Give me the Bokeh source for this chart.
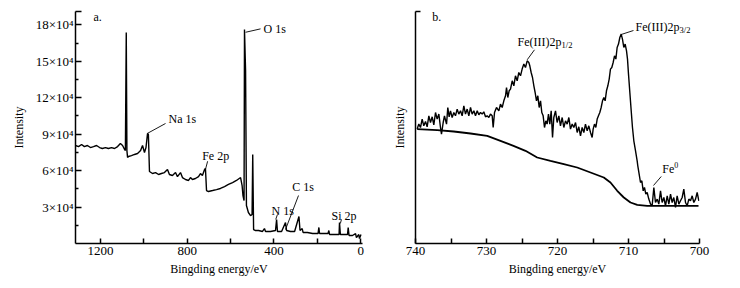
from bokeh.plotting import figure
from bokeh.layouts import row
from bokeh.models import FixedTicker, Range1d
from bokeh.core.properties import value
from bokeh.embed import file_html
from bokeh.resources import INLINE

# ---------------- data: survey spectrum (panel a) ----------------
survey_ev = [1315, 1301, 1287, 1274, 1260, 1246, 1232, 1218, 1204, 1191, 1177, 1163, 1149, 1135, 1121,
             1108, 1098, 1091, 1085, 1081, 1078, 1075, 1071, 1057, 1043, 1029, 1015, 1006, 997, 990,
             983, 979, 974, 960, 946, 932, 919, 905, 891, 882, 868, 854, 845, 831, 822,
             808, 794, 785, 776, 762, 748, 739, 730, 720, 716, 711, 702, 683, 665, 647,
             628, 610, 591, 573, 554, 547, 543, 538, 536, 531, 527, 518, 508, 501, 498,
             494, 485, 471, 453, 444, 439, 416, 393, 388, 384, 365, 347, 342, 324, 305,
             285, 280, 270, 266, 246, 222, 197, 193, 190, 172, 151, 147, 144, 121, 100,
             98, 94, 75, 61, 58, 54, 38, 24, 20, 9, 6, -1]
survey_int = [8.07, 7.98, 8.15, 7.98, 8.07, 7.90, 7.98, 8.07, 7.90, 7.82, 7.90, 7.82, 7.90, 7.82, 7.98,
              8.23, 8.07, 7.82, 7.65, 17.37, 7.65, 7.08, 7.16, 7.24, 7.33, 7.41, 7.65, 8.07, 7.49, 7.90,
              9.05, 8.97, 5.93, 5.76, 5.84, 5.68, 5.76, 5.84, 6.09, 5.68, 5.60, 5.84, 5.51, 5.84, 5.43,
              5.27, 5.19, 5.43, 5.27, 5.35, 5.51, 5.76, 5.60, 6.09, 6.17, 4.36, 4.28, 4.36, 4.44, 4.53,
              4.69, 4.86, 5.02, 5.19, 5.43, 4.77, 3.95, 3.54, 17.61, 14.24, 3.13, 2.55, 2.30, 2.39, 7.33,
              1.15, 1.07, 1.07, 0.99, 1.23, 0.99, 0.99, 1.07, 1.98, 0.99, 0.99, 1.73, 1.07, 0.99, 0.99,
              2.22, 1.07, 1.23, 0.91, 0.91, 0.82, 0.82, 1.32, 0.82, 0.82, 0.82, 1.07, 0.74, 0.74, 0.74,
              1.73, 0.74, 0.74, 0.74, 1.32, 0.66, 0.66, 0.82, 0.49, 0.74, 0.41, 0.74]

survey_xticks = [0, 400, 800, 1200]
survey_xminor = [200, 600, 1000]
survey_yticks = [3, 6, 9, 12, 15, 18]
survey_ylabels = ["3×10⁴", "6×10⁴", "9×10⁴", "12×10⁴", "15×10⁴", "18×10⁴"]
survey_yminor = [1.5, 4.5, 7.5, 10.5, 13.5, 16.5]

survey_peaks = ["O 1s", "Na 1s", "Fe 2p", "C 1s", "N 1s", "Si 2p"]

# ---------------- data: Fe 2p spectrum (panel b) ----------------
fe_ev = [739.77, 739.53, 739.30, 739.06, 738.83, 738.59, 738.36, 738.12, 737.89, 737.65,
         737.42, 737.18, 736.95, 736.71, 736.48, 736.34, 736.10, 735.92, 735.63, 735.45,
         735.26, 735.07, 734.84, 734.60, 734.37, 734.13, 733.90, 733.66, 733.43, 733.19,
         732.96, 732.72, 732.49, 732.25, 732.02, 731.78, 731.55, 731.31, 731.08, 730.85,
         730.61, 730.38, 730.14, 729.91, 729.67, 729.44, 729.20, 729.06, 728.87, 728.59,
         728.26, 728.03, 727.79, 727.56, 727.32, 727.18, 727.00, 726.81, 726.62, 726.38,
         726.15, 725.92, 725.68, 725.45, 725.21, 724.98, 724.74, 724.51, 724.27, 724.04,
         723.90, 723.71, 723.52, 723.33, 723.15, 722.96, 722.77, 722.58, 722.39, 722.21,
         722.02, 721.83, 721.64, 721.46, 721.27, 721.08, 720.89, 720.70, 720.52, 720.28,
         720.05, 719.81, 719.58, 719.34, 719.11, 718.87, 718.64, 718.40, 718.17, 717.93,
         717.70, 717.46, 717.23, 717.00, 716.76, 716.53, 716.29, 716.06, 715.82, 715.59,
         715.35, 715.12, 714.98, 714.79, 714.60, 714.41, 714.23, 714.04, 713.85, 713.66,
         713.47, 713.29, 713.10, 712.91, 712.72, 712.54, 712.35, 712.16, 711.97, 711.78,
         711.60, 711.41, 711.22, 711.03, 710.85, 710.66, 710.47, 710.28, 710.14, 710.00,
         709.81, 709.62, 709.44, 709.25, 709.01, 708.78, 708.69, 708.50, 708.31, 708.12,
         707.93, 707.75, 707.56, 707.37, 707.14, 706.90, 706.67, 706.43, 706.20, 705.96,
         705.73, 705.49, 705.26, 705.02, 704.79, 704.55, 704.32, 704.08, 703.85, 703.62,
         703.38, 703.15, 702.91, 702.68, 702.44, 702.21, 701.97, 701.74, 701.50, 701.27,
         701.03, 700.80, 700.56, 700.33, 700.09]
fe_int = [114.4, 119.4, 116.0, 124.4, 117.7, 122.0, 116.7, 127.7, 121.0, 126.7,
          118.7, 131.0, 124.4, 129.4, 116.0, 109.4, 121.0, 127.7, 119.4, 136.0,
          126.7, 132.7, 126.0, 131.0, 127.7, 134.4, 129.4, 132.7, 127.7, 137.7,
          129.4, 134.4, 127.7, 136.0, 129.4, 132.7, 127.7, 132.7, 128.7, 131.0,
          129.4, 131.7, 126.7, 127.7, 126.0, 129.4, 127.7, 116.0, 131.0, 136.0,
          132.7, 139.4, 136.0, 142.7, 147.7, 156.0, 146.0, 152.7, 154.4, 162.7,
          157.7, 167.7, 162.7, 171.0, 167.7, 174.4, 179.4, 176.0, 182.7, 181.0,
          177.7, 171.0, 166.0, 157.7, 151.0, 142.7, 147.7, 136.0, 142.7, 131.0,
          127.7, 116.0, 122.7, 119.4, 129.4, 119.4, 132.7, 106.0, 126.0, 132.7,
          121.0, 127.7, 117.7, 126.0, 116.0, 122.7, 119.4, 126.0, 114.4, 119.4,
          116.0, 121.0, 111.0, 116.7, 107.7, 116.0, 111.0, 119.4, 112.7, 117.7,
          111.0, 106.0, 114.4, 119.4, 116.0, 124.4, 127.7, 131.0, 136.0, 142.7,
          146.0, 142.7, 152.7, 157.7, 164.4, 174.4, 176.0, 181.0, 187.7, 184.4,
          196.0, 199.4, 206.0, 209.4, 204.4, 196.0, 199.4, 192.7, 184.4, 169.4,
          151.0, 132.7, 116.0, 102.7, 92.7, 82.7, 77.7, 69.4, 61.0, 62.7,
          52.7, 56.0, 49.4, 51.0, 44.4, 39.4, 37.7, 56.0, 41.0, 44.4,
          39.4, 52.7, 41.0, 46.0, 37.7, 47.7, 39.4, 49.4, 41.0, 46.0,
          36.0, 47.7, 39.4, 42.7, 46.0, 54.4, 41.0, 37.7, 44.4, 42.7,
          47.7, 41.0, 44.4, 51.0, 42.7]

bg_ev = [739.76, 736.94, 734.61, 732.25, 729.90, 728.03, 726.20, 724.51, 722.86, 720.99,
         719.11, 717.23, 715.35, 713.48, 712.54, 711.59, 710.66, 709.72, 708.77, 707.37,
         704.08, 700.14]
bg_int = [114.4, 113.4, 112.0, 110.0, 107.7, 102.7, 97.7, 92.7, 86.0, 82.7,
          79.4, 76.0, 71.0, 66.0, 61.0, 52.7, 46.0, 41.0, 38.7, 37.7,
          37.7, 37.7]

fe_xticks = [700, 710, 720, 730, 740]
fe_xminor = [705, 715, 725, 735]

FONT = "Liberation Serif"
INK = "#000000"


def style(p):
    p.toolbar_location = None
    p.outline_line_color = None
    p.background_fill_color = "white"
    p.border_fill_color = "white"
    p.xgrid.visible = False
    p.ygrid.visible = False
    for ax in (p.xaxis[0], p.yaxis[0]):
        ax.axis_line_color = INK
        ax.axis_line_width = 1.5
        ax.major_tick_line_color = INK
        ax.major_tick_line_width = 1.5
        ax.minor_tick_line_color = INK
        ax.minor_tick_line_width = 1.5
        ax.major_tick_out = 0
        ax.minor_tick_out = 0
        ax.major_label_text_font = FONT
        ax.major_label_text_font_size = "13px"
        ax.major_label_text_color = INK
        ax.axis_label_text_font = FONT
        ax.axis_label_text_font_size = "12px"
        ax.axis_label_text_font_style = "normal"
        ax.axis_label_text_color = INK


def label(p, x, y, text, size="12px", dx=0, dy=0):
    p.text(x=[x], y=[y], text=[text], text_font=value(FONT), text_font_size=value(size),
           text_color=INK, text_align="left", text_baseline="middle", x_offset=dx, y_offset=dy)


def leader(p, x0, y0, x1, y1):
    p.segment(x0=[x0], y0=[y0], x1=[x1], y1=[y1], line_color=INK, line_width=0.9)


# ---------------- panel a ----------------
pa = figure(width=370, height=288, output_backend="svg", toolbar_location=None,
            x_range=Range1d(1315, -8), y_range=Range1d(0, 19.1),
            min_border_left=75, min_border_right=8, min_border_top=11, min_border_bottom=45)
style(pa)
pa.line(survey_ev, survey_int, line_color=INK, line_width=1.4)

pa.xaxis.ticker = FixedTicker(ticks=survey_xticks, minor_ticks=survey_xminor)
pa.xaxis.major_tick_in = 5
pa.xaxis.minor_tick_in = 5
pa.xaxis.major_label_standoff = 3
pa.xaxis.axis_label = "Bingding energy/eV"
pa.xaxis.axis_label_standoff = 4

pa.yaxis.ticker = FixedTicker(ticks=survey_yticks + [19.1], minor_ticks=survey_yminor)
overrides = {t: lab for t, lab in zip(survey_yticks, survey_ylabels)}
overrides[19.1] = ""
pa.yaxis.major_label_overrides = overrides
pa.yaxis.major_tick_in = 6
pa.yaxis.minor_tick_in = 3
pa.yaxis.major_label_standoff = 2
pa.yaxis.axis_label = "Intensity"
pa.yaxis.axis_label_standoff = 7

label(pa, 1232, 18.63, "a.")
label(pa, 448, 17.67, survey_peaks[0]); leader(pa, 531, 17.39, 462, 17.67)
label(pa, 886, 10.29, survey_peaks[1]); leader(pa, 985, 9.05, 900, 9.88)
label(pa, 731, 7.19, survey_peaks[2]); leader(pa, 716, 6.09, 706, 6.77)
label(pa, 316, 4.69, survey_peaks[3]); leader(pa, 347, 1.15, 287, 3.95)
label(pa, 411, 2.66, survey_peaks[4]); leader(pa, 392, 1.98, 384, 2.39)
label(pa, 135, 2.30, survey_peaks[5]); leader(pa, 94, 1.65, 89, 1.98)

# ---------------- panel b ----------------
pb = figure(width=370, height=288, output_backend="svg", toolbar_location=None,
            x_range=Range1d(740, 700), y_range=Range1d(0, 232),
            min_border_left=45, min_border_right=41, min_border_top=11, min_border_bottom=45)
style(pb)
pb.line(bg_ev, bg_int, line_color=INK, line_width=1.8)
pb.line(fe_ev, fe_int, line_color=INK, line_width=1.4)

pb.xaxis.ticker = FixedTicker(ticks=fe_xticks, minor_ticks=fe_xminor)
pb.xaxis.major_tick_in = 5
pb.xaxis.minor_tick_in = 5
pb.xaxis.major_label_standoff = 3
pb.xaxis.axis_label = "Bingding energy/eV"
pb.xaxis.axis_label_standoff = 4

pb.yaxis.ticker = FixedTicker(ticks=[232], minor_ticks=[])
pb.yaxis.major_label_overrides = {232: ""}
pb.yaxis.major_tick_in = 5
pb.yaxis.major_label_standoff = 0
pb.yaxis.axis_label = "Intensity"
pb.yaxis.axis_label_standoff = 9

label(pb, 737.65, 227, "b.")
label(pb, 725.63, 202, "Fe(III)2p"); label(pb, 725.63, 202, "1/2", size="8.5px", dx=44, dy=3)
leader(pb, 724.27, 183.7, 723.24, 193.7)
label(pb, 709.01, 217, "Fe(III)2p"); label(pb, 709.01, 217, "3/2", size="8.5px", dx=44, dy=3)
leader(pb, 711.03, 209, 709.30, 213)
label(pb, 705.25, 75, "Fe"); label(pb, 705.25, 75, "0", size="8px", dx=12, dy=-4)
leader(pb, 706.48, 58, 705.39, 67)

layout = row(pa, pb)
open("out.html", "w").write(file_html(layout, INLINE))
